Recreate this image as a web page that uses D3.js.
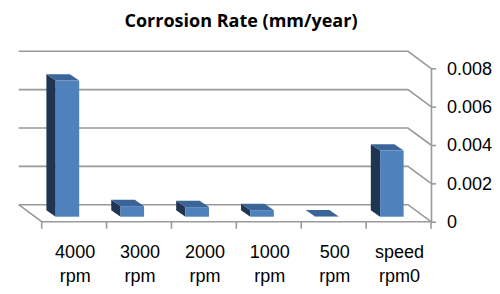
<!DOCTYPE html>
<html>
<head>
<meta charset="utf-8">
<script src="https://cdn.jsdelivr.net/npm/d3@7"></script>
<style>
  body { margin: 0; background: #fff; }
  svg { display: block; }
</style>
</head>
<body>
<div id="chart"></div>
<script>
    // data
    const categories = ["4000 rpm", "3000 rpm", "2000 rpm", "1000 rpm", "500 rpm", "speed rpm0"];
    const rates = [0.0071, 0.00055, 0.0005, 0.00034, 0.00001, 0.00345];
    const yTicks = [0, 0.002, 0.004, 0.006, 0.008];

    const W = 500, H = 294;
    const depth = { dx: 23, dy: 17 };        // back wall -> front plane
    const barOff = { dx: -6.7, dy: -5 };     // bar front face relative to front plane
    const barDepth = { dx: 9.3, dy: 6.4 };

    const svg = d3.select("#chart").append("svg")
        .attr("width", W)
        .attr("height", H);

    const x = d3.scaleBand()
        .domain(categories)
        .range([41.7, 431])
        .padding(0);

    const y = d3.scaleLinear()
        .domain([0, 0.008])
        .range([221.7, 68.3]);

    const gridColor = "#9a9a9a";
    const labelFont = "'Liberation Sans', Arial, sans-serif";

    // title
    svg.append("text")
        .attr("x", 241)
        .attr("y", 27)
        .attr("text-anchor", "middle")
        .style("font-family", "'Open Sans', sans-serif")
        .style("font-weight", "bold")
        .style("font-size", "18px")
        .text("Corrosion Rate (mm/year)");

    // back wall gridlines + right side diagonal
    const x0 = x.range()[0], x1 = x.range()[1];
    svg.selectAll(".grid")
        .data(yTicks)
        .enter()
        .append("polyline")
            .attr("class", "grid")
            .attr("fill", "none")
            .attr("stroke", gridColor)
            .attr("stroke-width", 1.6)
            .attr("points", d => {
                const yb = y(d) - depth.dy;
                return [[x0 - depth.dx, yb], [x1 - depth.dx, yb], [x1, y(d)]].join(" ");
            });

    // floor: left diagonal and front edge
    svg.append("polyline")
        .attr("fill", "none")
        .attr("stroke", gridColor)
        .attr("stroke-width", 1.6)
        .attr("points", [[x0 - depth.dx, y(0) - depth.dy], [x0, y(0)], [x1, y(0)]].join(" "));

    // front category ticks
    const bounds = categories.map(c => x(c)).concat([x1]);
    svg.selectAll(".xtick")
        .data(bounds)
        .enter()
        .append("line")
            .attr("class", "xtick")
            .attr("x1", d => d).attr("x2", d => d)
            .attr("y1", y(0)).attr("y2", y(0) + 7)
            .attr("stroke", gridColor)
            .attr("stroke-width", 1.6);

    // right value axis
    const yAxis = svg.append("g")
        .attr("transform", `translate(${x1},0)`)
        .call(d3.axisRight(y)
            .tickValues(yTicks)
            .tickSize(5)
            .tickSizeOuter(0)
            .tickPadding(11)
            .tickFormat(d => d === 0 ? "0" : d3.format(".3f")(d)));
    yAxis.selectAll("path, line")
        .attr("stroke", gridColor)
        .attr("stroke-width", 1.6);
    yAxis.selectAll("text")
        .style("font-family", labelFont)
        .style("font-size", "18px")
        .attr("fill", "#000");

    // category labels (two lines)
    const lbl = svg.selectAll(".xlabel")
        .data(categories)
        .enter()
        .append("text")
            .attr("class", "xlabel")
            .attr("text-anchor", "middle")
            .style("font-family", labelFont)
            .style("font-size", "18px")
            .attr("fill", "#000");
    lbl.each(function(d) {
        const parts = d.split(" ");
        const cx = x(d) + x.bandwidth() / 2 + 1;
        parts.forEach((p, i) => {
            d3.select(this).append("tspan")
                .attr("x", cx)
                .attr("y", 258.3 + i * 23.4)
                .text(p);
        });
    });

    // 3D bars
    const barW = 23.5;
    const bars = categories.map((c, i) => {
        const xl = x(c) + x.bandwidth() / 2 - barW / 2 + barOff.dx;
        return {
            xl: xl,
            xr: xl + barW,
            yt: y(rates[i]) + barOff.dy,
            yb: y(0) + barOff.dy
        };
    });

    const g = svg.selectAll(".bar")
        .data(bars)
        .enter()
        .append("g")
            .attr("class", "bar");

    // left side face
    g.append("polygon")
        .attr("fill", "#1f3552")
        .attr("points", d => [
            [d.xl - barDepth.dx, d.yt - barDepth.dy],
            [d.xl, d.yt],
            [d.xl, d.yb],
            [d.xl - barDepth.dx, d.yb - barDepth.dy]
        ].join(" "));

    // top face
    g.append("polygon")
        .attr("fill", "#3b6498")
        .attr("points", d => [
            [d.xl - barDepth.dx, d.yt - barDepth.dy],
            [d.xr - barDepth.dx, d.yt - barDepth.dy],
            [d.xr, d.yt],
            [d.xl, d.yt]
        ].join(" "));

    // front face
    g.append("rect")
        .attr("fill", "#4f81bd")
        .attr("x", d => d.xl)
        .attr("y", d => d.yt)
        .attr("width", barW)
        .attr("height", d => Math.max(0, d.yb - d.yt));
</script>
</body>
</html>
